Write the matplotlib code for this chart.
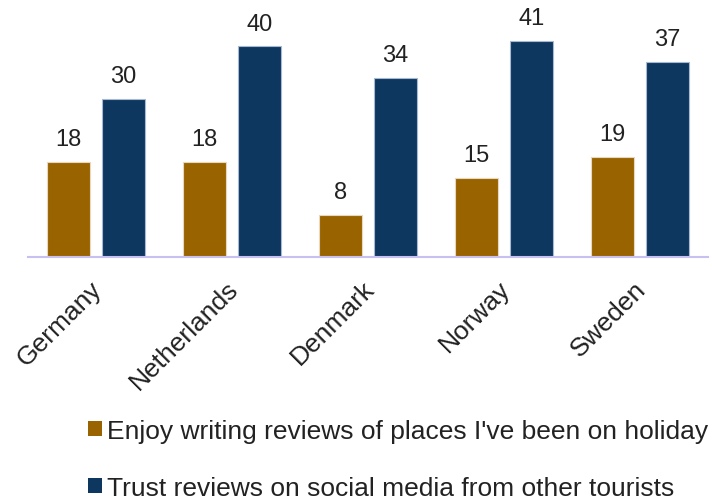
import matplotlib

matplotlib.use("agg")
import matplotlib.pyplot as plt
import matplotlib.transforms as mtransforms
import numpy as np
from matplotlib.patches import Patch

countries = ["Germany", "Netherlands", "Denmark", "Norway", "Sweden"]
enjoy_writing = [18, 18, 8, 15, 19]
trust_reviews = [30, 40, 34, 41, 37]
series_labels = [
    "Enjoy writing reviews of places I've been on holiday",
    "Trust reviews on social media from other tourists",
]

plt.rcParams["font.family"] = ["Liberation Sans", "DejaVu Sans"]

BROWN = "#996300"
BLUE = "#0e3760"

fig = plt.figure(figsize=(7.12, 5.02), dpi=100)
ax = fig.add_axes([28 / 712, (502 - 258) / 502, 680 / 712, 258 / 502])

x = np.arange(len(countries))
width = 0.316
offset = 0.202

b1 = ax.bar(x - offset, enjoy_writing, width, color=BROWN,
            edgecolor="#e8d8c0", linewidth=0.8)
b2 = ax.bar(x + offset, trust_reviews, width, color=BLUE,
            edgecolor="#a8b8d0", linewidth=0.8)

for bars in (b1, b2):
    ax.bar_label(bars, padding=8.5, fontsize=17, color="#222222")

ax.set_xlim(-0.5, len(countries) - 0.5)
ax.set_ylim(0, 49)
for side in ("top", "right", "left"):
    ax.spines[side].set_visible(False)
ax.spines["bottom"].set_color("#c8c0f0")
ax.spines["bottom"].set_linewidth(1.5)
ax.set_yticks([])
ax.set_xticks(x)
ax.set_xticklabels(countries, rotation=45, ha="right", rotation_mode="anchor",
                   fontsize=19, color="#222222")
ax.tick_params(axis="x", length=0, pad=11)
# nudge the rotated labels a little left and down
shift = mtransforms.ScaledTranslation(-6 / 100, -4 / 100, fig.dpi_scale_trans)
for lbl in ax.get_xticklabels():
    lbl.set_transform(lbl.get_transform() + shift)

handles = [Patch(facecolor=BROWN), Patch(facecolor=BLUE)]
fig.legend(handles, series_labels, loc="upper left",
           bbox_to_anchor=(88 / 712, 1 - 420 / 502), frameon=False,
           fontsize=19, handlelength=0.52, handleheight=0.52,
           handletextpad=0.2, labelspacing=1.25, borderaxespad=0,
           borderpad=0, labelcolor="#222222")

fig.savefig("out.png", dpi=100)
